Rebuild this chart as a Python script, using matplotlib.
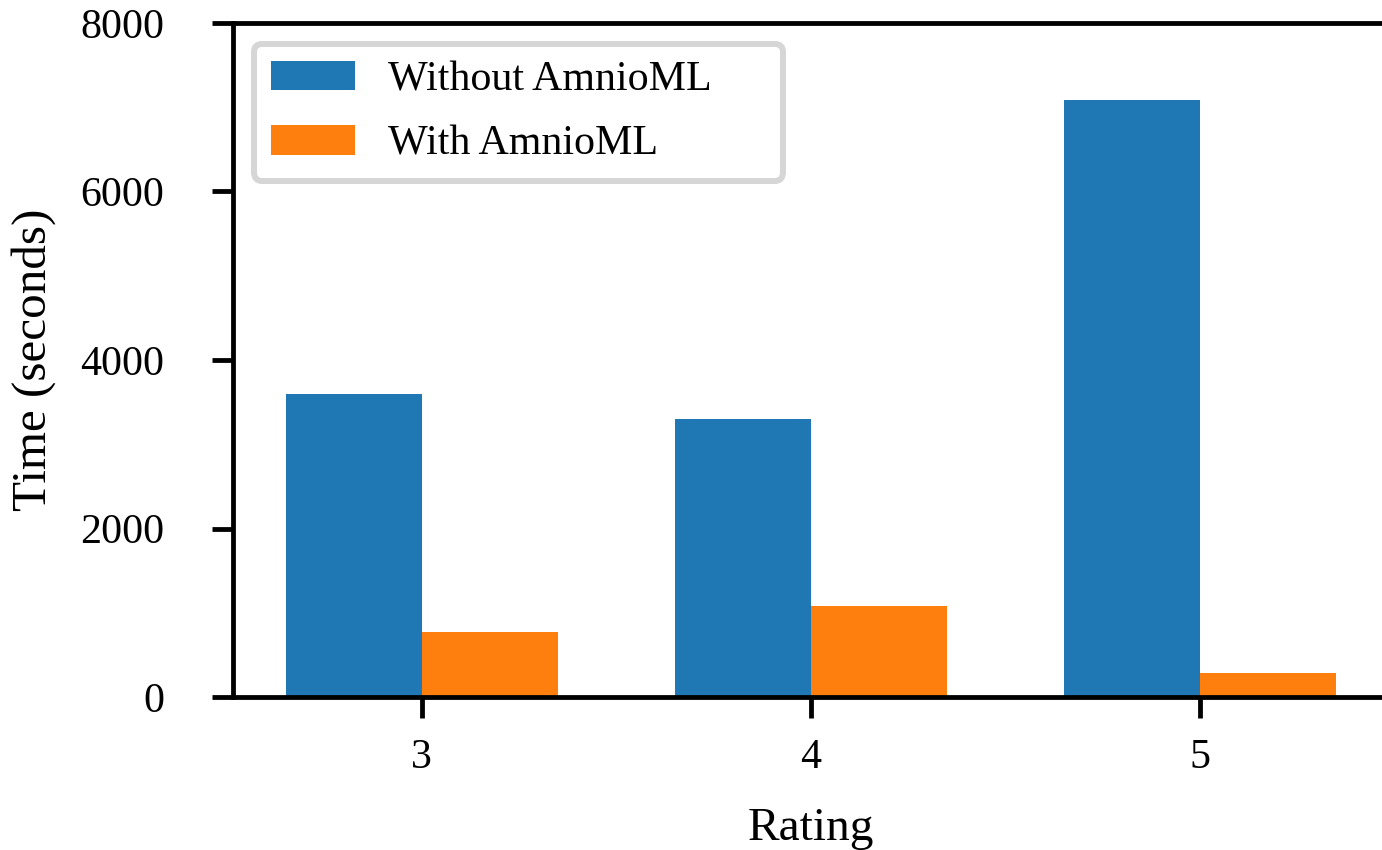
import matplotlib
matplotlib.use("Agg")
import matplotlib.pyplot as plt
import numpy as np

ratings = [3, 4, 5]
without_amnioml = [3600, 3300, 7090]
with_amnioml = [770, 1080, 285]
series_labels = ["Without AmnioML", "With AmnioML"]

plt.rcParams['font.family'] = ['Liberation Serif', 'DejaVu Serif']
plt.rcParams['font.size'] = 7

DPI = 432
W, H = 1382, 850
fig = plt.figure(figsize=(W / DPI, H / DPI), dpi=DPI)
ax_left, ax_right, ax_top, ax_bottom = 233, 1389, 23, 697
ax = fig.add_axes([ax_left / W, 1 - ax_bottom / H, (ax_right - ax_left) / W, (ax_bottom - ax_top) / H])

x = np.array(ratings, dtype=float)
w = 0.35
ax.bar(x - w / 2, without_amnioml, w, label=series_labels[0], color='#1f77b4')
ax.bar(x + w / 2, with_amnioml, w, label=series_labels[1], color='#ff7f0e')

ax.set_xticks(ratings)
ax.set_xticklabels([str(r) for r in ratings])
ax.set_ylim(0, 8000)
ax.set_yticks([0, 2000, 4000, 6000, 8000])
ax.tick_params(axis='y', pad=8)
ax.set_xlabel("Rating", fontsize=7.9, labelpad=5)
ax.set_ylabel("Time (seconds)", fontsize=8.2)

legend_w = (804 - ax_left) / (ax_right - ax_left)
ax.legend(loc='upper left', bbox_to_anchor=(0, 0, legend_w, 1), mode='expand',
          labelspacing=0.62)

fig.savefig("out.png", dpi=DPI)
